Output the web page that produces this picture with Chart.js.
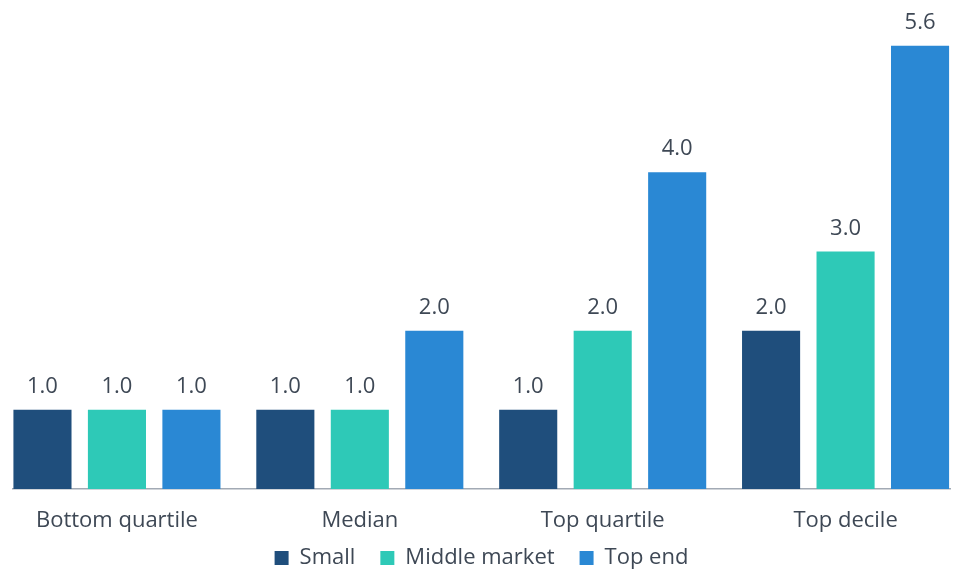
<!DOCTYPE html>
<html>
<head>
<meta charset="utf-8">
<script src="https://cdn.jsdelivr.net/npm/chart.js@4.4.1/dist/chart.umd.min.js"></script>
<style>
  html, body { margin: 0; padding: 0; background: #fff; overflow: hidden; }
  #wrap { position: relative; width: 956px; height: 579px; }
</style>
</head>
<body>
<div id="wrap"><canvas id="quartileChart"></canvas></div>
<script>
const categories = ['Bottom quartile', 'Median', 'Top quartile', 'Top decile'];
const seriesNames = ['Small', 'Middle market', 'Top end'];
const small = [1.0, 1.0, 1.0, 2.0];
const middleMarket = [1.0, 1.0, 2.0, 3.0];
const topEnd = [1.0, 2.0, 4.0, 5.6];

const textColor = '#3e4855';
const fontFamily = '"Open Sans", "Noto Sans", sans-serif';
const labelFont = '22px ' + fontFamily;

const toPoints = arr => arr.map((v, i) => ({ x: i, y: v }));

// numbers above each bar
const valueLabels = {
  id: 'valueLabels',
  afterDatasetsDraw(chart) {
    const ctx = chart.ctx;
    ctx.save();
    ctx.font = labelFont;
    ctx.fillStyle = textColor;
    ctx.textAlign = 'center';
    ctx.textBaseline = 'alphabetic';
    chart.data.datasets.forEach((ds, di) => {
      chart.getDatasetMeta(di).data.forEach((bar, i) => {
        ctx.fillText(ds.data[i].y.toFixed(1), bar.x, bar.y - 17);
      });
    });
    ctx.restore();
  }
};

// group names under the axis (drawn here so they are not clipped to the axis box)
const categoryLabels = {
  id: 'categoryLabels',
  afterDraw(chart) {
    const ctx = chart.ctx;
    const xScale = chart.scales.x;
    ctx.save();
    ctx.font = labelFont;
    ctx.fillStyle = textColor;
    ctx.textAlign = 'center';
    ctx.textBaseline = 'alphabetic';
    categories.forEach((name, i) => {
      ctx.fillText(name, xScale.getPixelForValue(i), chart.chartArea.bottom + 38);
    });
    ctx.restore();
  }
};

const data = {
  datasets: [
    { label: seriesNames[0], data: toPoints(small), backgroundColor: '#1f4e7c' },
    { label: seriesNames[1], data: toPoints(middleMarket), backgroundColor: '#2ec9b7' },
    { label: seriesNames[2], data: toPoints(topEnd), backgroundColor: '#2a88d4' }
  ]
};

const config = {
  type: 'bar',
  data,
  options: {
    responsive: true,
    maintainAspectRatio: false,
    animation: false,
    datasets: {
      bar: { categoryPercentage: 0.92, barPercentage: 0.78 }
    },
    layout: { padding: { left: 13, right: 6, top: 14, bottom: 0 } },
    plugins: {
      tooltip: { enabled: false },
      legend: {
        position: 'bottom',
        labels: {
          boxWidth: 14,
          boxHeight: 14,
          padding: 25,
          color: textColor,
          font: { family: fontFamily, size: 22 }
        }
      }
    },
    scales: {
      x: {
        type: 'linear',
        offset: false,
        min: -0.428,
        max: 3.43,
        afterBuildTicks: axis => { axis.ticks = categories.map((c, i) => ({ value: i })); },
        afterFit: axis => { axis.height = 33; },
        grid: { display: false },
        border: { display: true, color: '#a2aab4', width: 1.5 },
        ticks: { display: false }
      },
      y: {
        display: false,
        min: 0,
        max: 6
      }
    }
  },
  plugins: [valueLabels, categoryLabels]
};

const myChart = new Chart(document.getElementById('quartileChart'), config);
</script>
</body>
</html>
